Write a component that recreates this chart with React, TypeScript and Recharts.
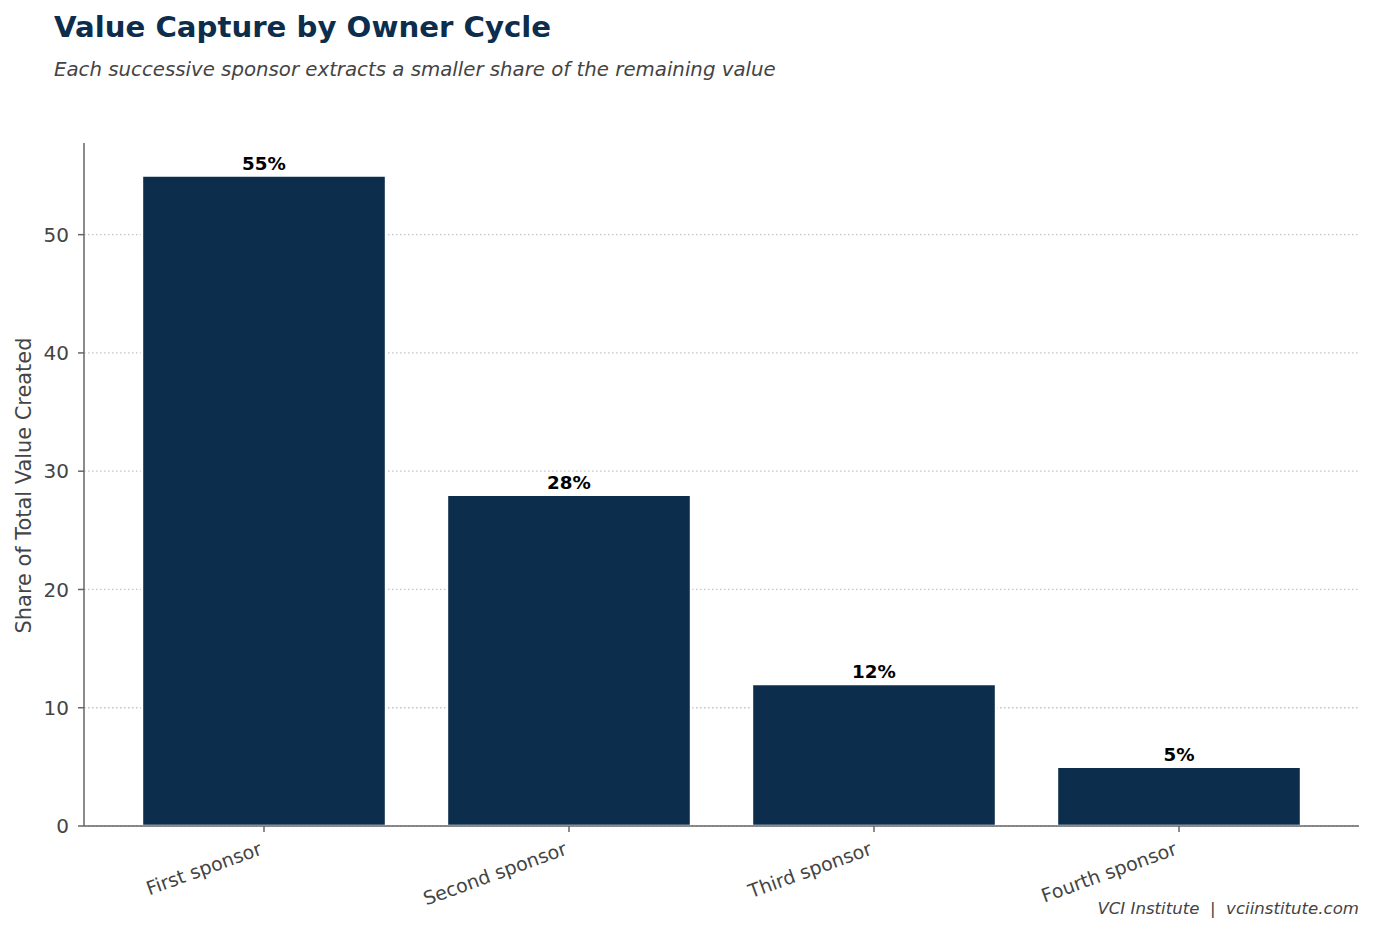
import React from 'react';
import { BarChart, Bar, XAxis, YAxis, CartesianGrid, LabelList } from 'recharts';

// owner cycles and the share of value each one captures (%)
const sponsors = ['First sponsor', 'Second sponsor', 'Third sponsor', 'Fourth sponsor'];
const shares = [55, 28, 12, 5];
const yTicks = [0, 10, 20, 30, 40, 50];
const yMax = 57.75;

const data = sponsors.map((name, i) => ({ name, share: shares[i] }));

const NAVY = '#0c2d4c';
const FONT = '"DejaVu Sans", sans-serif';

// grid only at the labelled ticks (no line at the top edge)
const gridRows = (args: any) => {
  const { yAxis, offset } = args || {};
  if (yAxis && typeof yAxis.scale === 'function') return yTicks.map((t) => yAxis.scale(t));
  if (offset) return yTicks.map((t) => offset.top + offset.height * (1 - t / yMax));
  return [];
};

const XTick = (props: any) => {
  const { x, y, payload } = props;
  return (
    <g transform={`translate(${x},${y})`}>
      <text
        x={-1}
        y={20}
        textAnchor="end"
        transform="rotate(-20, -1, 20)"
        fontSize={19}
        fill="#444"
        fontFamily={FONT}
      >
        {payload.value}
      </text>
    </g>
  );
};

const YTick = (props: any) => {
  const { x, y, payload } = props;
  return (
    <text x={x} y={y} dy="0.36em" textAnchor="end" fontSize={20} fill="#444" fontFamily={FONT}>
      {payload.value}
    </text>
  );
};

const BarLabel = (props: any) => {
  const { x, y, width, value } = props;
  return (
    <text
      x={x + width / 2}
      y={y - 6}
      textAnchor="middle"
      fontSize={18.3}
      fontWeight="bold"
      fill="#000"
      fontFamily={FONT}
    >
      {value}%
    </text>
  );
};

const App: React.FC = () => {
  return (
    <div style={{ position: 'absolute', left: 0, top: 0, width: 1374, height: 933, background: '#fff' }}>
      <BarChart
        width={1374}
        height={933}
        data={data}
        margin={{ top: 143, right: 15, bottom: 47, left: 24 }}
        barCategoryGap="10%"
      >
        <CartesianGrid
          vertical={false}
          stroke="#c4c4c4"
          strokeDasharray="1.5 2.5"
          strokeWidth={1.3}
          horizontalCoordinatesGenerator={gridRows}
        />
        <XAxis
          dataKey="name"
          height={60}
          padding={{ left: 27.5, right: 27.5 }}
          tick={<XTick />}
          tickSize={6}
          tickMargin={2}
          interval={0}
          axisLine={{ stroke: '#666', strokeWidth: 1.5 }}
          tickLine={{ stroke: '#666', strokeWidth: 1.5 }}
        />
        <YAxis
          width={60}
          domain={[0, yMax]}
          ticks={yTicks}
          tickSize={6}
          tickMargin={9}
          tick={<YTick />}
          axisLine={{ stroke: '#666', strokeWidth: 1.5 }}
          tickLine={{ stroke: '#666', strokeWidth: 1.5 }}
          allowDataOverflow
        />
        <Bar dataKey="share" fill={NAVY} stroke="#fff" strokeWidth={2.4} isAnimationActive={false}>
          <LabelList dataKey="share" content={<BarLabel />} />
        </Bar>
      </BarChart>
      <svg
        width={1374}
        height={933}
        style={{ position: 'absolute', left: 0, top: 0, pointerEvents: 'none' }}
        fontFamily={FONT}
      >
        <text x={54} y={37} fontSize={29.2} fontWeight="bold" fill={NAVY}>
          Value Capture by Owner Cycle
        </text>
        <text x={54} y={76} fontSize={19.75} fontStyle="italic" fill="#444">
          Each successive sponsor extracts a smaller share of the remaining value
        </text>
        <text
          x={31}
          y={485.5}
          fontSize={20.9}
          fill="#444"
          textAnchor="middle"
          transform="rotate(-90, 31, 485.5)"
        >
          Share of Total Value Created
        </text>
        <text
          x={1359}
          y={914}
          fontSize={16.6}
          fontStyle="italic"
          fill="#444"
          textAnchor="end"
          style={{ whiteSpace: 'pre' }}
        >
          {'VCI Institute  |  vciinstitute.com'}
        </text>
      </svg>
    </div>
  );
};

export default App;
